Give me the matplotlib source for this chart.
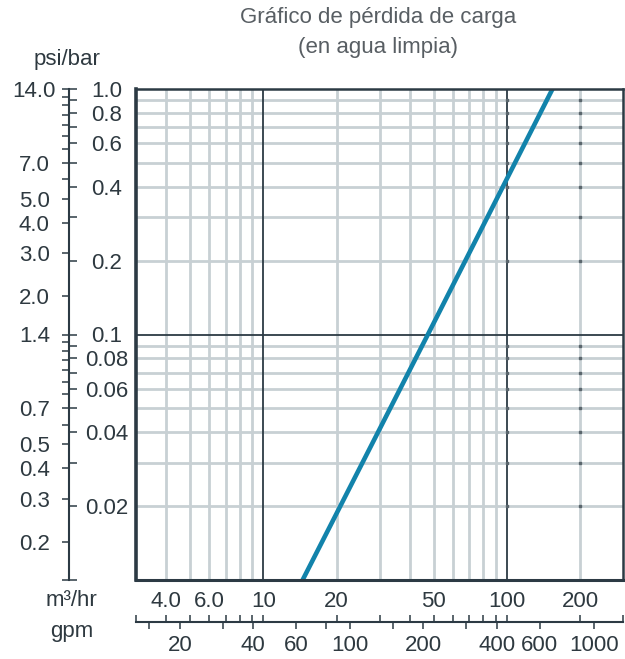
import matplotlib
matplotlib.use('Agg')
import matplotlib.pyplot as plt
from matplotlib.ticker import NullLocator

plt.rcParams['font.family'] = ['Liberation Sans', 'DejaVu Sans']

# curva de perdida de carga (m3/hr -> bar)
flow_m3h = [14.5, 47.4, 154.0]
loss_bar = [0.01, 0.1, 1.0]

# rejilla
x_grid_minor = [4, 5, 6, 7, 8, 9, 20, 30, 40, 50, 60, 70, 80, 90, 200]
x_grid_major = [10, 100]
y_grid_minor = [0.02, 0.03, 0.04, 0.05, 0.06, 0.07, 0.08, 0.09,
                0.2, 0.3, 0.4, 0.5, 0.6, 0.7, 0.8, 0.9]
y_grid_major = [0.1]
x_dotted = [100, 200]

# escalas
m3_ticks = [3, 4, 5, 6, 7, 8, 9, 10, 20, 30, 40, 50, 60, 70, 80, 90, 100, 200, 300]
m3_labels = ['', '4.0', '', '6.0', '', '', '', '10', '20', '', '', '50', '', '', '', '',
             '100', '200', '']
gpm_ticks = [15, 20, 30, 40, 60, 80, 100, 150, 200, 300, 400, 600, 1000]
gpm_labels = ['', '20', '', '40', '60', '', '100', '', '200', '', '400', '600', '1000']
bar_ticks = [0.01, 0.02, 0.03, 0.04, 0.05, 0.06, 0.07, 0.08, 0.09, 0.1,
             0.2, 0.3, 0.4, 0.5, 0.6, 0.7, 0.8, 0.9, 1.0]
bar_labels = ['', '0.02', '', '0.04', '', '0.06', '', '0.08', '', '0.1',
              '0.2', '', '0.4', '', '0.6', '', '0.8', '', '1.0']
psi_ticks = [0.14, 0.2, 0.3, 0.4, 0.5, 0.6, 0.7, 0.8, 0.9, 1.0, 1.1, 1.2, 1.3, 1.4,
             2, 3, 4, 5, 6, 7, 8, 9, 10, 11, 12, 13, 14]
psi_labels = ['', '0.2', '0.3', '0.4', '0.5', '', '0.7', '', '', '', '', '', '', '1.4',
              '2.0', '3.0', '4.0', '5.0', '', '7.0', '', '', '', '', '', '', '14.0']

GPM_PER_M3H = 4.403
PSI_PER_BAR = 14.0
XMIN, XMAX = 3, 300
YMIN, YMAX = 0.01, 1.0

W, H = 625, 659
DARK = '#2c3a44'
LIGHT = '#c8d0d4'
TXT = '#2e3940'
FS = 16


def rect(x0, y0, x1, y1):
    # caja en pixeles, y desde arriba
    return [x0 / W, 1 - y1 / H, (x1 - x0) / W, (y1 - y0) / H]


fig = plt.figure(figsize=(W / 100, H / 100), dpi=100)

# grafico principal
ax = fig.add_axes(rect(136, 89, 623, 580))
ax.set_xscale('log')
ax.set_yscale('log')
ax.set_xlim(XMIN, XMAX)
ax.set_ylim(YMIN, YMAX)
for v in x_grid_minor:
    ax.axvline(v, color=LIGHT, lw=2, zorder=1)
for v in y_grid_minor:
    ax.axhline(v, color=LIGHT, lw=2, zorder=1)
for v in x_grid_major:
    ax.axvline(v, color=DARK, lw=1.3, zorder=2)
for v in y_grid_major:
    ax.axhline(v, color=DARK, lw=1.3, zorder=2)
for v in x_dotted:
    ax.plot([v] * len(y_grid_minor), y_grid_minor, ls='none', marker='s', ms=2,
            color='#5a656c', zorder=3)
ax.plot(flow_m3h, loss_bar, color='#1283ab', lw=3.3, solid_capstyle='butt', zorder=5)
ax.xaxis.set_major_locator(NullLocator())
ax.xaxis.set_minor_locator(NullLocator())
ax.yaxis.set_major_locator(NullLocator())
ax.yaxis.set_minor_locator(NullLocator())
for side, lw in [('left', 2.6), ('bottom', 2.2), ('top', 1.8), ('right', 1.8)]:
    ax.spines[side].set_color(DARK)
    ax.spines[side].set_linewidth(lw)
    ax.spines[side].set_zorder(6)

# escala izquierda: bar (derecha de la linea) y psi (izquierda)
left_box = rect(69, 89, 69.1, 580)
ax_bar = fig.add_axes(left_box)
ax_psi = fig.add_axes(left_box)
for a in (ax_bar, ax_psi):
    a.set_yscale('log')
    a.patch.set_visible(False)
    a.set_xticks([])
    for s in a.spines.values():
        s.set_visible(False)
    a.yaxis.set_minor_locator(NullLocator())
ax_bar.set_ylim(YMIN, YMAX)
ax_psi.set_ylim(YMIN * PSI_PER_BAR, YMAX * PSI_PER_BAR)
ax_bar.spines['left'].set_visible(True)
ax_bar.spines['left'].set_color(DARK)
ax_bar.spines['left'].set_linewidth(1.5)

ax_bar.yaxis.set_ticks_position('right')
ax_bar.set_yticks(bar_ticks, bar_labels)
ax_bar.yaxis.set_minor_locator(NullLocator())
ax_bar.tick_params(axis='y', direction='out', length=5.8, width=1.1, pad=21,
                   labelsize=FS, color=DARK, labelcolor=TXT)
for t in ax_bar.get_yticklabels():
    t.set_ha('center')

ax_psi.yaxis.set_ticks_position('left')
ax_psi.set_yticks(psi_ticks, psi_labels)
ax_psi.yaxis.set_minor_locator(NullLocator())
ax_psi.tick_params(axis='y', direction='out', length=5, width=1.1, pad=20,
                   labelsize=FS, color=DARK, labelcolor=TXT)
for t in ax_psi.get_yticklabels():
    t.set_ha('center')

# escala inferior: m3/hr (arriba de la linea) y gpm (abajo)
bottom_box = rect(136, 621.7, 623, 621.8)
ax_m3 = fig.add_axes(bottom_box)
ax_gpm = fig.add_axes(bottom_box)
for a in (ax_m3, ax_gpm):
    a.set_xscale('log')
    a.patch.set_visible(False)
    a.set_yticks([])
    for s in a.spines.values():
        s.set_visible(False)
ax_m3.set_xlim(XMIN, XMAX)
ax_gpm.set_xlim(XMIN * GPM_PER_M3H, XMAX * GPM_PER_M3H)
ax_gpm.spines['bottom'].set_visible(True)
ax_gpm.spines['bottom'].set_color(DARK)
ax_gpm.spines['bottom'].set_linewidth(1.5)

ax_m3.xaxis.set_ticks_position('top')
ax_m3.set_xticks(m3_ticks, m3_labels)
ax_m3.xaxis.set_minor_locator(NullLocator())
ax_m3.tick_params(axis='x', direction='out', length=5, width=1.1, pad=2,
                  labelsize=FS, color=DARK, labelcolor=TXT)

ax_gpm.xaxis.set_ticks_position('bottom')
ax_gpm.set_xticks(gpm_ticks, gpm_labels)
ax_gpm.xaxis.set_minor_locator(NullLocator())
ax_gpm.tick_params(axis='x', direction='out', length=5, width=1.1, pad=4.3,
                   labelsize=FS, color=DARK, labelcolor=TXT)

# textos
fig.text(67 / W, 1 - 60 / H, 'psi/bar', ha='center', va='center', fontsize=FS, color=TXT)
fig.text(71 / W, 1 - 601 / H, 'm³/hr', ha='center', va='center', fontsize=FS, color=TXT)
fig.text(72 / W, 1 - 631 / H, 'gpm', ha='center', va='center', fontsize=FS, color=TXT)
fig.text(378 / W, 1 - 18 / H, 'Gráfico de pérdida de carga', ha='center', va='center',
         fontsize=FS, color='#585e63')
fig.text(378 / W, 1 - 48 / H, '(en agua limpia)', ha='center', va='center',
         fontsize=FS, color='#585e63')

fig.savefig('out.png', dpi=100)
